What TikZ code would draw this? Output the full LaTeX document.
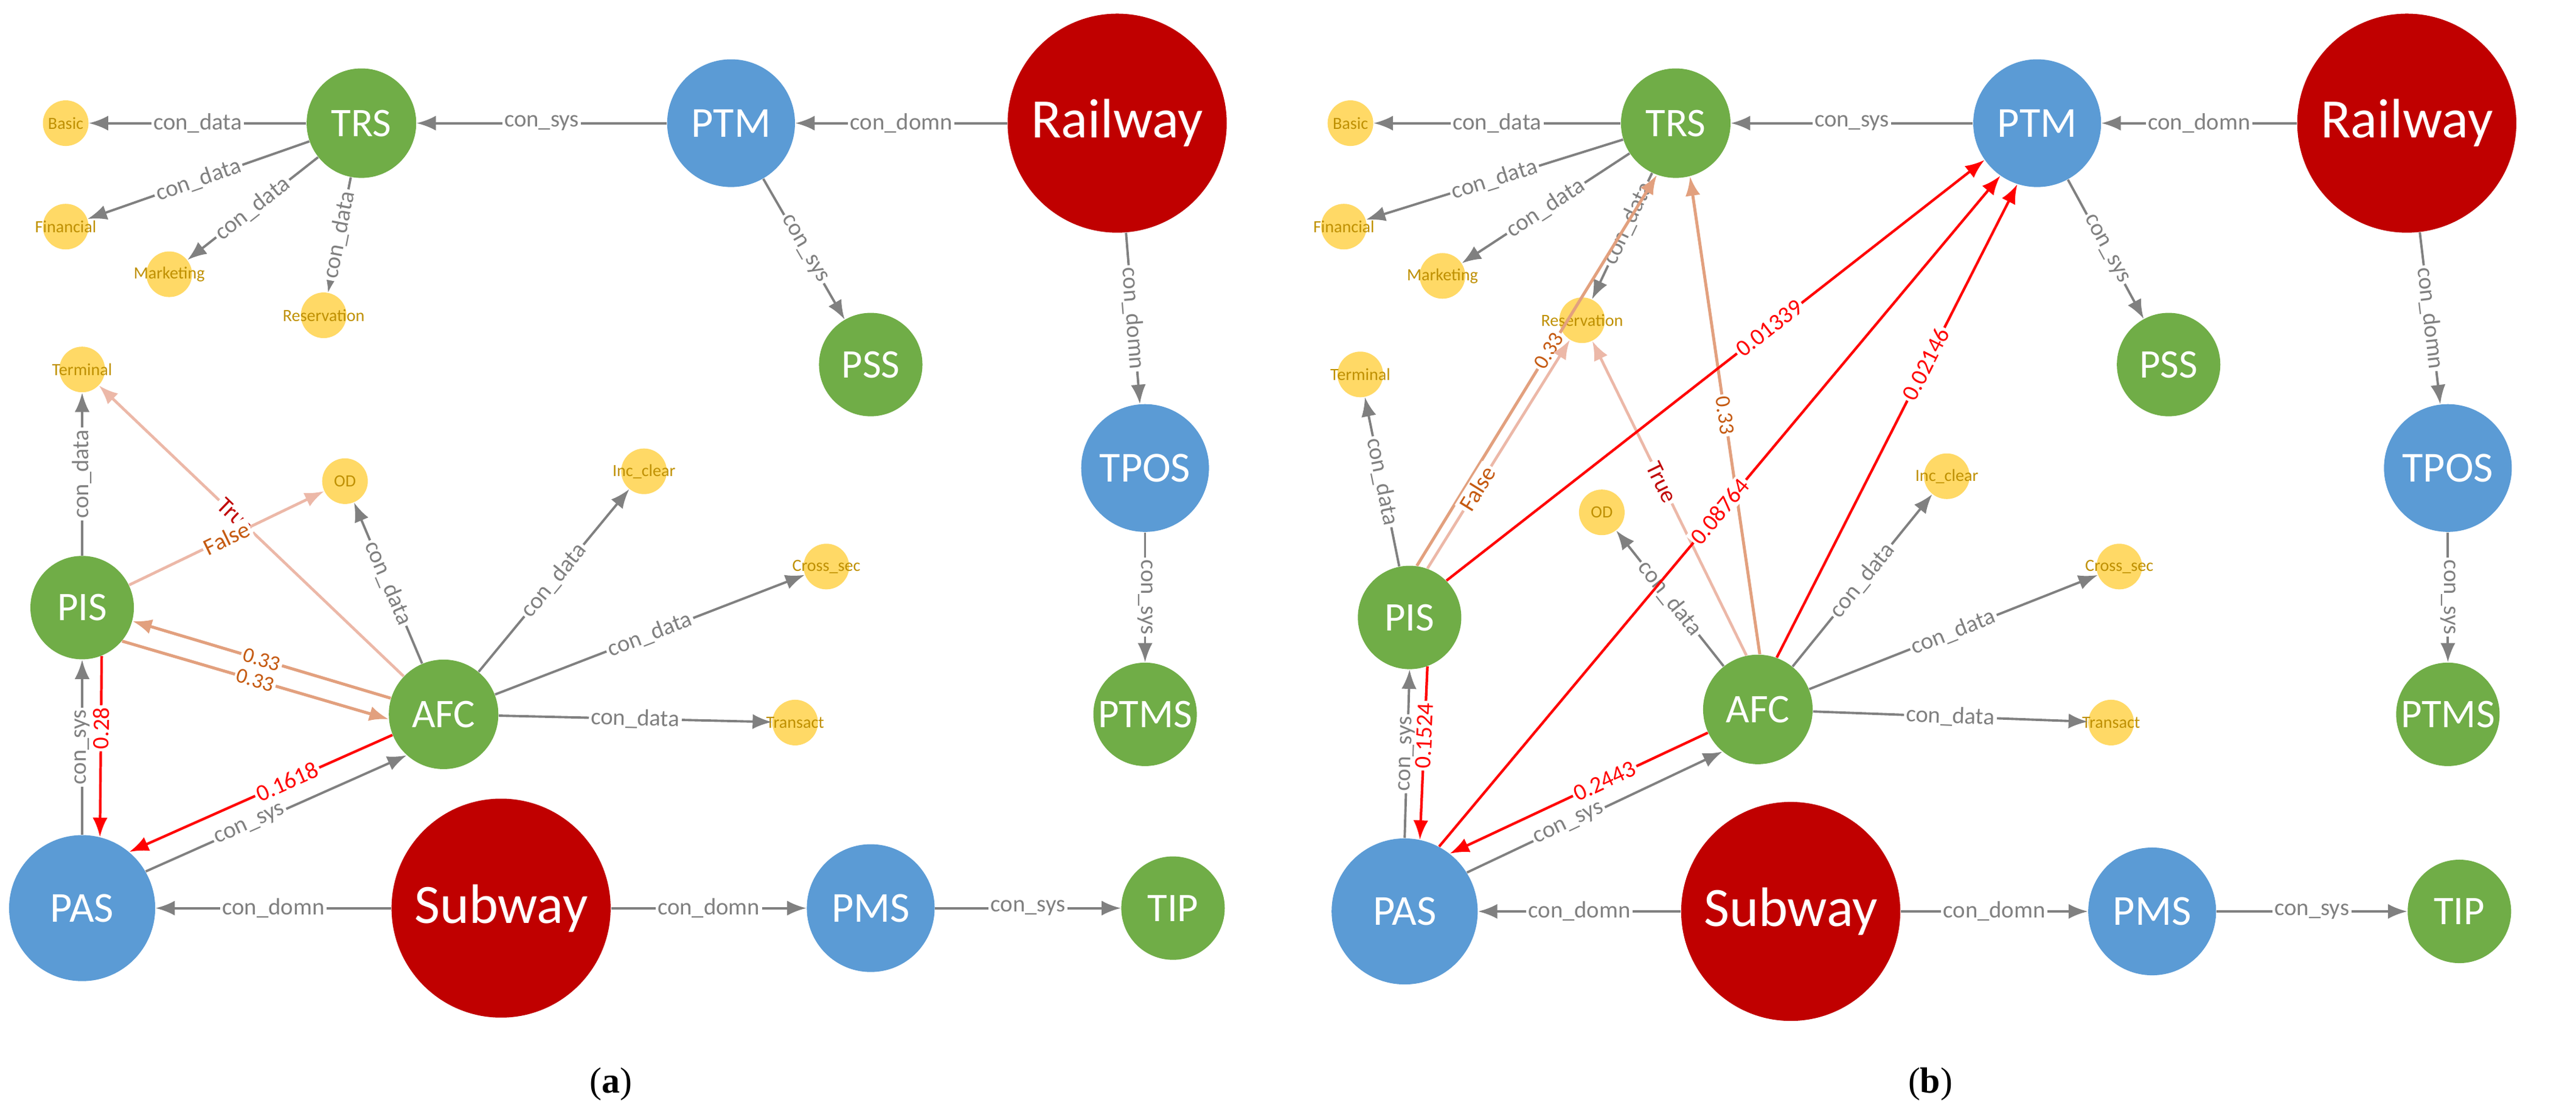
\documentclass[tikz,border=0pt]{standalone}
\usepackage{fontspec}
\setmainfont{Carlito}
\newfontfamily\capfont{Liberation Serif}
\usetikzlibrary{
  arrows.meta,
  positioning
}
\definecolor{sysgreen}{HTML}{70AD47}
\definecolor{platblue}{HTML}{5B9BD5}
\definecolor{domred}{HTML}{C00000}
\definecolor{datayellow}{HTML}{FFD966}
\definecolor{datatext}{HTML}{BF9000}
\definecolor{relgray}{HTML}{808080}
\definecolor{shareorange}{HTML}{E2A07E}
\definecolor{sharetext}{HTML}{C55A11}
\definecolor{flagpink}{HTML}{ECB8A8}
\tikzset{
  % For all graph vertices.
  vertex/.style={
    circle,
    inner sep=0pt,
    text=white},
%
  % Domain vertices (big red ones).
  sector/.style={
    vertex,
    fill=domred,
    minimum size=3.6cm,
    font=\fontsize{26}{26}\selectfont},
%
  % Platform vertices.
  platform/.style={
    vertex,
    fill=platblue,
    minimum size=#1,
    font=\fontsize{20}{20}\selectfont},
  platform/.default=2.1cm,
%
  % System vertices.
  system/.style={
    vertex,
    fill=sysgreen,
    minimum size=#1,
    font=\fontsize{19}{19}\selectfont},
  system/.default=1.7cm,
%
  % Data vertices, text put as a label so the circle keeps its size.
  data/.style={
    vertex,
    fill=datayellow,
    minimum size=0.75cm,
    label={[text=datatext,font=\fontsize{8}{8}\selectfont]center:#1}},
%
  % Plain relations.
  link/.style={
    draw=relgray,
    line width=1.1pt,
    -{Latex[length=9pt,width=7pt]}},
  rel/.style={
    fill=white,
    inner sep=1pt,
    sloped,
    text=relgray,
    font=\fontsize{11}{11}\selectfont},
%
  % Weighted relations.
  weight/.style={
    draw=red,
    line width=1.2pt,
    -{Latex[length=9pt,width=7pt]}},
  wlabel/.style={
    rel,
    text=red},
%
  % Shared relations.
  share/.style={
    draw=shareorange,
    line width=1.4pt,
    -{Latex[length=9pt,width=7pt]}},
  slabel/.style={
    rel,
    text=sharetext,
    font=\fontsize{10}{10}\selectfont},
%
  % Boolean relations.
  flag/.style={
    draw=flagpink,
    line width=1.3pt,
    -{Latex[length=9pt,width=7pt]}},
  flabel/.style={
    rel,
    font=\fontsize{11}{11}\selectfont},
%
  % Panel captions.
  caption/.style={
    font=\capfont\fontsize{17}{17}\selectfont}
}

\begin{document}
\begin{tikzpicture}[x=0.0270cm, y=-0.0270cm]
  \useasboundingbox (0,0) rectangle (1568,675);

  % panel (a)
  \node[data=Basic] (Basic a) at (40,75) {};
  \node[system=1.8cm] (TRS a) at (220,75) {TRS};
  \node[platform] (PTM a) at (445,75) {PTM};
  \node[sector] (Railway a) at (680,75) {Railway};
  \node[data=Financial] (Financial a) at (40,138) {};
  \node[data=Marketing] (Marketing a) at (103,167) {};
  \node[data=Reservation] (Reservation a) at (197,192) {};
  \node[system] (PSS a) at (530,222) {PSS};
  \node[data=Terminal] (Terminal a) at (50,225) {};
  \node[data=OD] (OD a) at (210,293) {};
  \node[data=Inc\_clear] (Inc a) at (392,287) {};
  \node[platform] (TPOS a) at (697,285) {TPOS};
  \node[data=Cross\_sec] (Cross a) at (503,345) {};
  \node[system] (PIS a) at (50,370) {PIS};
  \node[system=1.8cm] (AFC a) at (270,435) {AFC};
  \node[data=Transact] (Transact a) at (484,440) {};
  \node[system] (PTMS a) at (697,435) {PTMS};
  \node[platform=2.4cm] (PAS a) at (50,553) {PAS};
  \node[sector] (Subway a) at (305,553) {Subway};
  \node[platform] (PMS a) at (530,553) {PMS};
  \node[system] (TIP a) at (714,553) {TIP};

  \draw[link] (Railway a) -- (PTM a) node[rel, midway] {con\_domn};
  \draw[link] (Railway a) -- (TPOS a) node[rel, midway] {con\_domn};
  \draw[link] (PTM a) -- (TRS a) node[rel, midway] {con\_sys};
  \draw[link] (PTM a) -- (PSS a) node[rel, midway] {con\_sys};
  \draw[link] (TPOS a) -- (PTMS a) node[rel, midway] {con\_sys};
  \draw[link] (TRS a) -- (Basic a) node[rel, midway] {con\_data};
  \draw[link] (TRS a) -- (Financial a) node[rel, midway] {con\_data};
  \draw[link] (TRS a) -- (Marketing a) node[rel, midway] {con\_data};
  \draw[link] (TRS a) -- (Reservation a) node[rel, midway] {con\_data};
  \draw[link] (PIS a) -- (Terminal a) node[rel, midway] {con\_data};
  \draw[link] (AFC a) -- (OD a) node[rel, midway] {con\_data};
  \draw[link] (AFC a) -- (Inc a) node[rel, midway] {con\_data};
  \draw[link] (AFC a) -- (Cross a) node[rel, midway] {con\_data};
  \draw[link] (AFC a) -- (Transact a) node[rel, midway] {con\_data};
  \draw[link] (PAS a.90) -- (PIS a.-90) node[rel, midway] {con\_sys};
  \draw[link] (PAS a.30) -- (AFC a.228) node[rel, pos=0.4] {con\_sys};
  \draw[link] (Subway a) -- (PAS a) node[rel, midway] {con\_domn};
  \draw[link] (Subway a) -- (PMS a) node[rel, midway] {con\_domn};
  \draw[link] (PMS a) -- (TIP a) node[rel, midway] {con\_sys};

  \draw[flag] (AFC a) -- (Terminal a)
    node[flabel, text=domred, pos=0.55] {True};
  \draw[flag] (PIS a) -- (OD a)
    node[flabel, text=sharetext, pos=0.5] {False};
  \draw[share] (AFC a.163) -- (PIS a.-15)
    node[slabel, midway] {0.33};
  \draw[share] (PIS a.-40) -- (AFC a.185)
    node[slabel, midway] {0.33};
  \draw[weight] (PIS a.-68) -- (PAS a.76)
    node[wlabel, pos=0.4] {0.28};
  \draw[weight] (AFC a.202) -- (PAS a.50)
    node[wlabel, pos=0.4] {0.1618};

  % panel (b)
  \node[data=Basic] (Basic b) at (822,75) {};
  \node[system=1.8cm] (TRS b) at (1020,75) {TRS};
  \node[platform] (PTM b) at (1240,75) {PTM};
  \node[sector] (Railway b) at (1465,75) {Railway};
  \node[data=Financial] (Financial b) at (818,138) {};
  \node[data=Marketing] (Marketing b) at (878,168) {};
  \node[data=Reservation] (Reservation b) at (963,195) {};
  \node[system] (PSS b) at (1320,222) {PSS};
  \node[data=Terminal] (Terminal b) at (828,228) {};
  \node[data=OD] (OD b) at (975,312) {};
  \node[data=Inc\_clear] (Inc b) at (1185,290) {};
  \node[platform] (TPOS b) at (1490,285) {TPOS};
  \node[data=Cross\_sec] (Cross b) at (1290,345) {};
  \node[system] (PIS b) at (858,376) {PIS};
  \node[system=1.8cm] (AFC b) at (1070,432) {AFC};
  \node[data=Transact] (Transact b) at (1285,440) {};
  \node[system] (PTMS b) at (1490,435) {PTMS};
  \node[platform=2.4cm] (PAS b) at (855,555) {PAS};
  \node[sector] (Subway b) at (1090,555) {Subway};
  \node[platform] (PMS b) at (1310,555) {PMS};
  \node[system] (TIP b) at (1497,555) {TIP};

  \draw[link] (Railway b) -- (PTM b) node[rel, midway] {con\_domn};
  \draw[link] (Railway b) -- (TPOS b) node[rel, midway] {con\_domn};
  \draw[link] (PTM b) -- (TRS b) node[rel, midway] {con\_sys};
  \draw[link] (PTM b) -- (PSS b) node[rel, midway] {con\_sys};
  \draw[link] (TPOS b) -- (PTMS b) node[rel, midway] {con\_sys};
  \draw[link] (TRS b) -- (Basic b) node[rel, midway] {con\_data};
  \draw[link] (TRS b) -- (Financial b) node[rel, midway] {con\_data};
  \draw[link] (TRS b) -- (Marketing b) node[rel, midway] {con\_data};
  \draw[link] (TRS b) -- (Reservation b) node[rel, pos=0.4] {con\_data};
  \draw[link] (PIS b) -- (Terminal b) node[rel, midway] {con\_data};
  \draw[link] (AFC b) -- (OD b) node[rel, midway] {con\_data};
  \draw[link] (AFC b) -- (Inc b) node[rel, midway] {con\_data};
  \draw[link] (AFC b) -- (Cross b) node[rel, midway] {con\_data};
  \draw[link] (AFC b) -- (Transact b) node[rel, midway] {con\_data};
  \draw[link] (PAS b.90) -- (PIS b.-90) node[rel, midway] {con\_sys};
  \draw[link] (PAS b.32) -- (AFC b.230) node[rel, pos=0.4] {con\_sys};
  \draw[link] (Subway b) -- (PAS b) node[rel, midway] {con\_domn};
  \draw[link] (Subway b) -- (PMS b) node[rel, midway] {con\_domn};
  \draw[link] (PMS b) -- (TIP b) node[rel, midway] {con\_sys};

  \draw[share] (PIS b.82) -- (TRS b.250)
    node[slabel, pos=0.55] {0.33};
  \draw[share] (AFC b.88) -- (TRS b.285)
    node[slabel, pos=0.5] {0.33};
  \draw[flag] (PIS b.70) -- (Reservation b)
    node[flabel, text=sharetext, pos=0.35] {False};
  \draw[flag] (AFC b.102) -- (Reservation b)
    node[flabel, text=domred, pos=0.55] {True};
  \draw[weight] (PIS b.45) -- (PTM b.215)
    node[wlabel, pos=0.6] {0.01339};
  \draw[weight] (PAS b.62) -- (PTM b.235)
    node[wlabel, pos=0.5] {0.08764};
  \draw[weight] (AFC b.70) -- (PTM b.252)
    node[wlabel, pos=0.62] {0.02146};
  \draw[weight] (PIS b.-70) -- (PAS b.78)
    node[wlabel, pos=0.4] {0.1524};
  \draw[weight] (AFC b.205) -- (PAS b.52)
    node[wlabel, pos=0.4] {0.2443};

  % captions
  \node[caption] (cap a) at (372,660) {(\textbf{a})};
  \node[caption] (cap b) at (1175,660) {(\textbf{b})};
\end{tikzpicture}
\end{document}
